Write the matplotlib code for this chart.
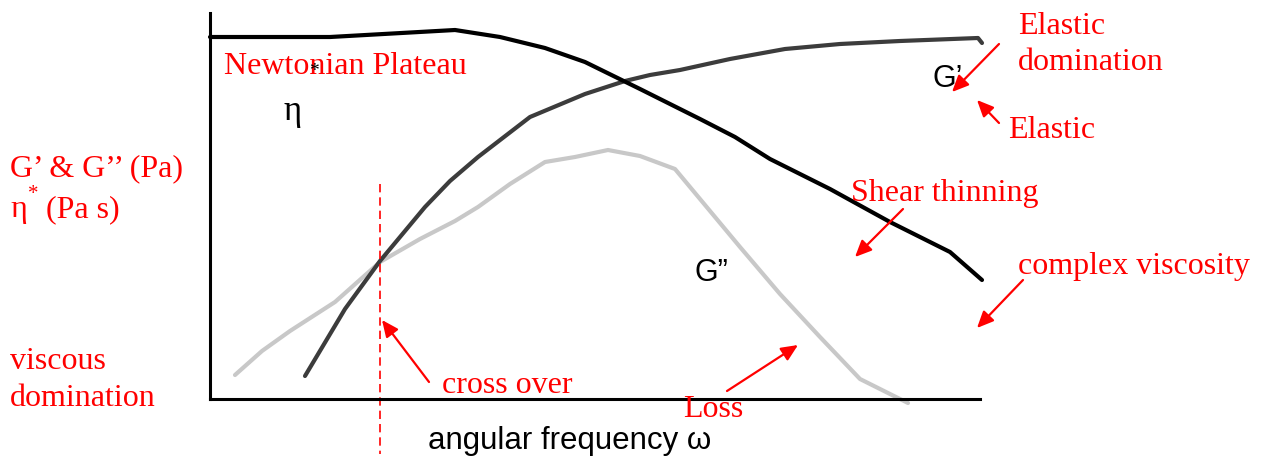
import numpy as np
import matplotlib.pyplot as plt

# curves (x = angular frequency, y = modulus/viscosity, arbitrary units)
eta_x = [210, 330, 455, 500, 545, 585, 640, 700, 735, 770, 830, 890, 950, 982]
eta_y = [38, 38, 31, 38, 49, 63, 90, 120, 138, 160, 190, 223, 253, 281]

g1_x = [305, 345, 380, 425, 450, 478, 530, 585, 625, 650, 680, 730, 785, 840, 900, 978, 982]
g1_y = [377, 310, 262, 208, 182, 158, 118, 95, 82, 76, 71, 60, 50, 45, 42, 39, 44]

g2_x = [235, 262, 290, 335, 380, 420, 455, 478, 510, 545, 575, 608, 640, 675, 700, 740, 780, 820, 860, 908]
g2_y = [376, 352, 332, 303, 263, 240, 222, 208, 185, 163, 158, 151, 157, 170, 200, 248, 295, 338, 380, 404]

H = 460  # image height, used to flip the pixel-style y values
def flip(v):
    return [H - y for y in v]

fig = plt.figure(figsize=(12.62, 4.6), dpi=100)
ax = fig.add_axes([210 / 1262, (H - 400) / H, (980 - 210) / 1262, (400 - 14) / H])
ax.set_xlim(210, 980)
ax.set_ylim(H - 400, H - 14)
ax.spines['top'].set_visible(False)
ax.spines['right'].set_visible(False)
ax.spines['left'].set_linewidth(2.2)
ax.spines['bottom'].set_linewidth(2.2)
ax.set_xticks([])
ax.set_yticks([])

ax.plot(g2_x, flip(g2_y), color='#c8c8c8', lw=3, clip_on=False, solid_capstyle='round')
ax.plot(g1_x, flip(g1_y), color='#3c3c3c', lw=3, clip_on=False, solid_capstyle='round')
ax.plot(eta_x, flip(eta_y), color='black', lw=3, clip_on=False, solid_capstyle='round')

# cross over line
ax.plot([380, 380], [H - 185, H - 455], color='red', lw=1.2, ls=(0, (5, 3)), clip_on=False)

serif = 'Liberation Serif'
sans = 'Liberation Sans'
red = dict(color='red', family=serif, fontsize=23, clip_on=False)

def t(x, y, s, **kw):
    ax.text(x, H - y, s, **kw)

t(224, 67, 'Newtonian Plateau', va='center', **red)
t(10, 169, 'G\u2019 & G\u2019\u2019 (Pa)', va='center', **red)
t(10, 210, '\u03b7', va='center', **red)
t(28, 195, '*', va='center', color='red', family=serif, fontsize=15, clip_on=False)
t(46, 210, '(Pa s)', va='center', **red)
t(10, 362, 'viscous', va='center', **red)
t(10, 399, 'domination', va='center', **red)
t(442, 386, 'cross over', va='center', **red)
t(683, 410, 'Loss', va='center', **red)
t(851, 194, 'Shear thinning', va='center', **red)
t(1018, 267, 'complex viscosity', va='center', **red)
t(1018, 27, 'Elastic', va='center', **red)
t(1018, 63, 'domination', va='center', **red)
t(1008, 131, 'Elastic', va='center', **red)

t(284, 112, '\u03b7', va='center', color='black', family=serif, fontsize=25, clip_on=False)
t(309, 72, '*', va='center', color='black', family=serif, fontsize=14, clip_on=False)
t(933, 79, 'G\u2019', va='center', color='black', family=sans, fontsize=22, clip_on=False)
t(694, 273, 'G\u201d', va='center', color='black', family=sans, fontsize=22, clip_on=False)
t(428, 441, 'angular frequency \u03c9', va='center', color='black', family=sans, fontsize=22.5, clip_on=False)

arrows = [((999, 45), (952, 93)), ((999, 124), (977, 101)), ((903, 210), (855, 258)),
          ((1023, 281), (977, 329)), ((429, 383), (382, 321)), ((727, 392), (798, 346))]
for (x0, y0), (x1, y1) in arrows:
    ax.annotate('', xy=(x1, H - y1), xytext=(x0, H - y0), annotation_clip=False,
                arrowprops=dict(arrowstyle='-|>,head_length=1.0,head_width=0.45',
                                color='red', lw=1.6, shrinkA=0, shrinkB=0))

fig.savefig('out.png', dpi=100)
